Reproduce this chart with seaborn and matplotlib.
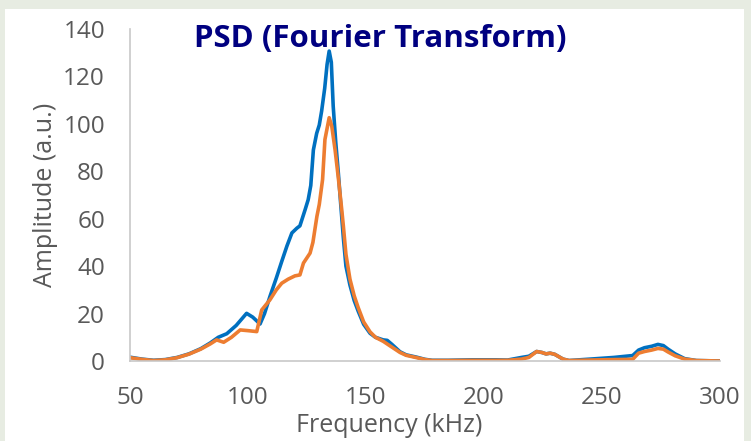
import numpy as np
import pandas as pd
import matplotlib
matplotlib.use("Agg")
import matplotlib.pyplot as plt
import seaborn as sns
from matplotlib.patches import Rectangle
from matplotlib.ticker import MultipleLocator

# ---- data ----
freq_blue = [50, 55, 60, 65, 70, 75, 80, 84, 87.4, 91, 95, 99.4, 102, 105.1, 107, 109.3,
             112, 114.3, 116.5, 118.6, 120.7, 122, 124.2, 125.5, 126.6, 127.7, 129.1, 130.2,
             131.2, 132.5, 133.5, 134.4, 135.3, 136.1, 137.2, 138.3, 139.3, 140.4, 141.5,
             143.2, 145, 146.7, 149, 151.7, 154, 157.3, 159, 161, 164.4, 167, 171.5, 175,
             178, 185, 195, 205, 210, 215.9, 219, 222.3, 224.5, 226.3, 228, 230, 233.5, 236,
             245, 255, 263, 265.5, 268, 271, 273.7, 276, 278, 281, 285, 290, 300]
amp_blue = [1.6, 0.8, 0.3, 0.6, 1.5, 3.0, 5.2, 7.6, 10.0, 11.5, 15.0, 20.1, 18.5, 15.6, 20.0, 27.2,
            35.0, 42.0, 48.5, 54.0, 56.0, 57.0, 63.8, 68.0, 74.0, 89.0, 96.0, 99.5,
            105.4, 115.0, 125.0, 130.7, 126.0, 107.5, 92.0, 79.0, 66.0, 52.0, 40.0,
            32.0, 25.5, 21.0, 15.5, 11.7, 10.0, 8.9, 8.7, 7.0, 3.9, 2.6, 1.6, 0.7,
            0.3, 0.3, 0.5, 0.5, 0.4, 1.5, 2.0, 4.0, 3.6, 3.0, 3.3, 2.8, 0.8, 0.2,
            0.8, 1.5, 2.3, 4.6, 5.6, 6.2, 7.0, 6.5, 5.0, 3.0, 1.0, 0.2, 0.0]

freq_orange = [50, 55, 60, 65, 70, 75, 80, 84, 86.7, 89.7, 93, 96.7, 100, 103.7, 105.8, 109.3,
               112, 114.3, 117, 119.9, 122, 123.5, 126.3, 127.5, 129.2, 130.2, 131.6, 132.6,
               133.5, 134.4, 135.5, 136.9, 138.3, 139.7, 140.4, 141.5, 143.2, 145, 146.7,
               149, 151.7, 154, 157.3, 160, 164.4, 167, 171.5, 175, 178, 185, 195, 205, 210,
               215.9, 219, 222.3, 224.5, 226.3, 228, 230, 233.5, 236, 245, 255, 263, 265.5,
               268, 271, 273.7, 276, 278, 281, 285, 290, 300]
amp_orange = [1.4, 0.7, 0.2, 0.5, 1.4, 2.9, 5.0, 7.2, 8.9, 7.9, 10.0, 13.1, 12.8, 12.4, 21.5, 25.8,
              30.0, 32.8, 34.5, 35.9, 36.3, 41.3, 45.5, 50.0, 61.0, 66.0, 76.5, 93.4,
              98.0, 102.6, 99.0, 89.0, 77.0, 64.0, 57.0, 45.0, 34.5, 27.5, 22.5,
              16.5, 12.3, 10.0, 8.3, 6.5, 3.6, 2.4, 1.4, 0.6, 0.2, 0.2, 0.3, 0.3, 0.3,
              0.8, 1.5, 4.0, 3.6, 3.0, 3.3, 2.8, 0.8, 0.2, 0.4, 0.6, 0.7, 3.3,
              4.0, 4.6, 5.3, 5.0, 3.8, 2.2, 0.8, 0.2, 0.0]

x_ticks = [50, 100, 150, 200, 250, 300]
y_ticks = [0, 20, 40, 60, 80, 100, 120, 140]
title_text = "PSD (Fourier Transform)"
x_label = "Frequency (kHz)"
y_label = "Amplitude (a.u.)"

blue_df = pd.DataFrame({"f": freq_blue, "a": amp_blue})
orange_df = pd.DataFrame({"f": freq_orange, "a": amp_orange})

sns.set_style("white")
plt.rcParams["font.family"] = ["Open Sans", "DejaVu Sans"]

fig = plt.figure(figsize=(7.51, 4.41), dpi=100, facecolor="#e7ece2")
fig.patches.append(Rectangle((5 / 751, 0), 739 / 751, 1 - 9 / 441, transform=fig.transFigure,
                             facecolor="white", edgecolor="none", zorder=-10))
ax = fig.add_axes([130 / 751, 1 - 361 / 441, 590 / 751, (361 - 29) / 441])
ax.set_facecolor("none")
ax.set_zorder(5)

sns.lineplot(data=blue_df, x="f", y="a", ax=ax, color="#0070c0", linewidth=2.6, sort=False)
sns.lineplot(data=orange_df, x="f", y="a", ax=ax, color="#ed7d31", linewidth=2.6, sort=False)

ax.set_xlim(50, 300)
ax.set_ylim(0, 140)
ax.set_xticks(x_ticks)
ax.set_yticks(y_ticks)
ax.xaxis.set_minor_locator(MultipleLocator(10))
ax.yaxis.set_minor_locator(MultipleLocator(4))

grey = "#595959"
tick_col = "#c8c8c8"
for s in ["top", "right"]:
    ax.spines[s].set_visible(False)
for s in ["left", "bottom"]:
    ax.spines[s].set_color(tick_col)
    ax.spines[s].set_linewidth(1.2)

ax.tick_params(axis="both", which="both", direction="out", color=tick_col, width=1.0)
ax.tick_params(axis="both", which="major", length=7, labelsize=17.5, labelcolor=grey)
ax.tick_params(axis="both", which="minor", length=7)
ax.tick_params(axis="y", which="major", pad=11)
ax.tick_params(axis="x", which="major", pad=11)

ax.set_xlabel(x_label, fontsize=18, color=grey)
ax.xaxis.set_label_coords(0.44, -0.157)
ax.set_ylabel(y_label, fontsize=18, color=grey, labelpad=4)

ax.text(0.425, 0.97, title_text, transform=ax.transAxes, ha="center", va="center",
        fontsize=22.5, fontweight="bold", color="#000080",
        family=["Liberation Sans Narrow", "Open Sans", "DejaVu Sans"])

fig.savefig("out.png", dpi=100, facecolor=fig.get_facecolor())
